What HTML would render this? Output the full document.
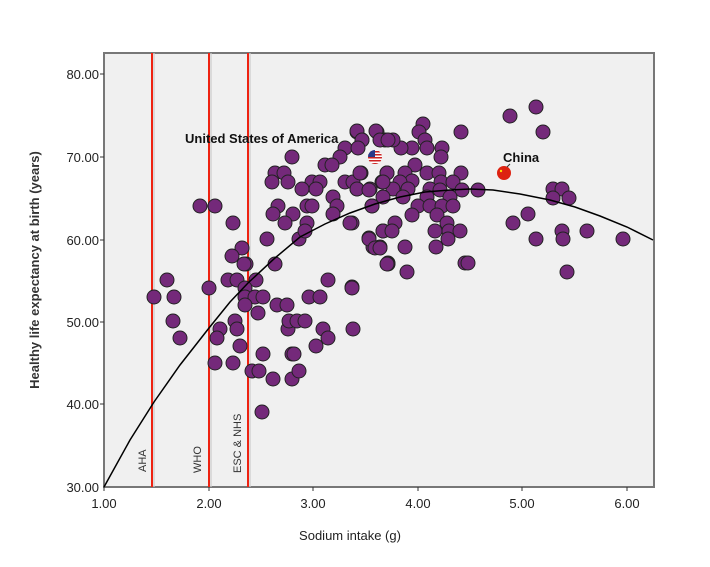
<!DOCTYPE html>
<html><head><meta charset="utf-8"><style>
body{margin:0;background:#fff;}
svg{display:block;font-family:"Liberation Sans",sans-serif;}
</style></head><body>
<svg width="710" height="567" viewBox="0 0 710 567" xmlns="http://www.w3.org/2000/svg">
<rect x="104" y="53" width="550" height="434" fill="#f0f0f0" stroke="#777" stroke-width="2"/>
<g stroke="#333" stroke-width="1">
<line x1="100" y1="74" x2="104" y2="74"/><line x1="100" y1="157" x2="104" y2="157"/><line x1="100" y1="240" x2="104" y2="240"/><line x1="100" y1="322" x2="104" y2="322"/><line x1="100" y1="404" x2="104" y2="404"/>
<line x1="104" y1="487" x2="104" y2="491"/><line x1="209" y1="487" x2="209" y2="491"/><line x1="313" y1="487" x2="313" y2="491"/><line x1="418" y1="487" x2="418" y2="491"/><line x1="522" y1="487" x2="522" y2="491"/><line x1="627" y1="487" x2="627" y2="491"/>
</g>
<g font-size="13" fill="#222" text-anchor="end">
<text x="99" y="79">80.00</text><text x="99" y="162">70.00</text><text x="99" y="245">60.00</text><text x="99" y="327">50.00</text><text x="99" y="409">40.00</text><text x="99" y="492">30.00</text>
</g>
<g font-size="13" fill="#222" text-anchor="middle">
<text x="104" y="508">1.00</text><text x="209" y="508">2.00</text><text x="313" y="508">3.00</text><text x="418" y="508">4.00</text><text x="522" y="508">5.00</text><text x="627" y="508">6.00</text>
</g>
<text x="350" y="540" font-size="13" fill="#222" text-anchor="middle">Sodium intake (g)</text>
<text transform="translate(39,270) rotate(-90)" font-size="13" font-weight="bold" fill="#333" text-anchor="middle">Healthy life expectancy at birth (years)</text>
<g stroke="#ccc" stroke-width="4" opacity="0.6"><line x1="153" y1="53" x2="153" y2="487"/><line x1="210" y1="53" x2="210" y2="487"/><line x1="249" y1="53" x2="249" y2="487"/></g>
<g stroke="#ee2211" stroke-width="2"><line x1="152" y1="53" x2="152" y2="487"/><line x1="209" y1="53" x2="209" y2="487"/><line x1="248" y1="53" x2="248" y2="487"/></g>
<g font-size="11" fill="#333">
<text transform="translate(146,472) rotate(-90)">AHA</text>
<text transform="translate(201,473) rotate(-90)">WHO</text>
<text transform="translate(241,473) rotate(-90)">ESC &amp; NHS</text>
</g>
<g fill="#74297a" stroke="#222" stroke-width="1">
<circle cx="510" cy="116" r="7"/><circle cx="536" cy="107" r="7"/><circle cx="543" cy="132" r="7"/><circle cx="461" cy="132" r="7"/><circle cx="423" cy="124" r="7"/><circle cx="419" cy="132" r="7"/><circle cx="425" cy="140" r="7"/><circle cx="427" cy="148" r="7"/><circle cx="442" cy="148" r="7"/><circle cx="441" cy="157" r="7"/><circle cx="412" cy="148" r="7"/><circle cx="401" cy="148" r="7"/><circle cx="393" cy="140" r="7"/><circle cx="385" cy="140" r="7"/><circle cx="377" cy="132" r="7"/><circle cx="362" cy="140" r="7"/><circle cx="357" cy="132" r="7"/><circle cx="415" cy="165" r="7"/><circle cx="427" cy="173" r="7"/><circle cx="439" cy="173" r="7"/><circle cx="461" cy="173" r="7"/><circle cx="405" cy="173" r="7"/><circle cx="387" cy="173" r="7"/><circle cx="361" cy="173" r="7"/><circle cx="441" cy="182" r="7"/><circle cx="453" cy="182" r="7"/><circle cx="412" cy="181" r="7"/><circle cx="400" cy="182" r="7"/><circle cx="382" cy="182" r="7"/><circle cx="357" cy="189" r="7"/><circle cx="370" cy="189" r="7"/><circle cx="393" cy="189" r="7"/><circle cx="408" cy="189" r="7"/><circle cx="430" cy="189" r="7"/><circle cx="440" cy="190" r="7"/><circle cx="462" cy="190" r="7"/><circle cx="478" cy="190" r="7"/><circle cx="383" cy="197" r="7"/><circle cx="403" cy="197" r="7"/><circle cx="427" cy="197" r="7"/><circle cx="450" cy="197" r="7"/><circle cx="372" cy="206" r="7"/><circle cx="418" cy="206" r="7"/><circle cx="430" cy="206" r="7"/><circle cx="442" cy="206" r="7"/><circle cx="453" cy="206" r="7"/><circle cx="412" cy="215" r="7"/><circle cx="437" cy="215" r="7"/><circle cx="395" cy="223" r="7"/><circle cx="447" cy="223" r="7"/><circle cx="352" cy="223" r="7"/><circle cx="383" cy="231" r="7"/><circle cx="435" cy="231" r="7"/><circle cx="449" cy="231" r="7"/><circle cx="460" cy="231" r="7"/><circle cx="369" cy="238" r="7"/><circle cx="373" cy="247" r="7"/><circle cx="380" cy="247" r="7"/><circle cx="405" cy="247" r="7"/><circle cx="436" cy="247" r="7"/><circle cx="448" cy="239" r="7"/><circle cx="388" cy="263" r="7"/><circle cx="407" cy="272" r="7"/><circle cx="465" cy="263" r="7"/><circle cx="468" cy="263" r="7"/><circle cx="352" cy="287" r="7"/>
<circle cx="553" cy="189" r="7"/><circle cx="562" cy="189" r="7"/><circle cx="553" cy="198" r="7"/><circle cx="569" cy="198" r="7"/><circle cx="528" cy="214" r="7"/><circle cx="513" cy="223" r="7"/><circle cx="536" cy="239" r="7"/><circle cx="562" cy="231" r="7"/><circle cx="563" cy="239" r="7"/><circle cx="587" cy="231" r="7"/><circle cx="623" cy="239" r="7"/><circle cx="567" cy="272" r="7"/>
<circle cx="357" cy="131" r="7"/><circle cx="376" cy="131" r="7"/><circle cx="362" cy="140" r="7"/><circle cx="380" cy="140" r="7"/><circle cx="388" cy="140" r="7"/><circle cx="345" cy="148" r="7"/><circle cx="358" cy="148" r="7"/><circle cx="340" cy="157" r="7"/><circle cx="292" cy="157" r="7"/><circle cx="325" cy="165" r="7"/><circle cx="332" cy="165" r="7"/><circle cx="275" cy="173" r="7"/><circle cx="284" cy="173" r="7"/><circle cx="288" cy="182" r="7"/><circle cx="272" cy="182" r="7"/><circle cx="312" cy="182" r="7"/><circle cx="320" cy="182" r="7"/><circle cx="302" cy="189" r="7"/><circle cx="316" cy="189" r="7"/><circle cx="345" cy="182" r="7"/><circle cx="353" cy="182" r="7"/><circle cx="360" cy="173" r="7"/><circle cx="357" cy="189" r="7"/><circle cx="369" cy="190" r="7"/><circle cx="387" cy="173" r="7"/><circle cx="383" cy="182" r="7"/><circle cx="333" cy="197" r="7"/><circle cx="278" cy="206" r="7"/><circle cx="307" cy="206" r="7"/><circle cx="312" cy="206" r="7"/><circle cx="337" cy="206" r="7"/><circle cx="372" cy="206" r="7"/><circle cx="200" cy="206" r="7"/><circle cx="215" cy="206" r="7"/><circle cx="273" cy="214" r="7"/><circle cx="293" cy="214" r="7"/><circle cx="285" cy="223" r="7"/><circle cx="307" cy="223" r="7"/><circle cx="333" cy="214" r="7"/><circle cx="350" cy="223" r="7"/><circle cx="233" cy="223" r="7"/><circle cx="299" cy="239" r="7"/><circle cx="267" cy="239" r="7"/><circle cx="305" cy="231" r="7"/><circle cx="369" cy="239" r="7"/><circle cx="383" cy="231" r="7"/><circle cx="392" cy="231" r="7"/><circle cx="375" cy="248" r="7"/><circle cx="380" cy="248" r="7"/><circle cx="242" cy="248" r="7"/><circle cx="232" cy="256" r="7"/><circle cx="246" cy="264" r="7"/><circle cx="275" cy="264" r="7"/><circle cx="388" cy="264" r="7"/>
<circle cx="167" cy="280" r="7"/><circle cx="154" cy="297" r="7"/><circle cx="174" cy="297" r="7"/><circle cx="173" cy="321" r="7"/><circle cx="180" cy="338" r="7"/><circle cx="209" cy="288" r="7"/><circle cx="228" cy="280" r="7"/><circle cx="237" cy="280" r="7"/><circle cx="256" cy="280" r="7"/><circle cx="244" cy="264" r="7"/><circle cx="328" cy="280" r="7"/><circle cx="352" cy="288" r="7"/><circle cx="387" cy="264" r="7"/><circle cx="245" cy="288" r="7"/><circle cx="245" cy="297" r="7"/><circle cx="255" cy="297" r="7"/><circle cx="263" cy="297" r="7"/><circle cx="245" cy="305" r="7"/><circle cx="258" cy="313" r="7"/><circle cx="277" cy="305" r="7"/><circle cx="287" cy="305" r="7"/><circle cx="309" cy="297" r="7"/><circle cx="320" cy="297" r="7"/><circle cx="235" cy="321" r="7"/><circle cx="237" cy="329" r="7"/><circle cx="220" cy="329" r="7"/><circle cx="217" cy="338" r="7"/><circle cx="240" cy="346" r="7"/><circle cx="215" cy="363" r="7"/><circle cx="233" cy="363" r="7"/><circle cx="252" cy="371" r="7"/><circle cx="259" cy="371" r="7"/><circle cx="263" cy="354" r="7"/><circle cx="273" cy="379" r="7"/><circle cx="292" cy="379" r="7"/><circle cx="299" cy="371" r="7"/><circle cx="292" cy="354" r="7"/><circle cx="294" cy="354" r="7"/><circle cx="288" cy="329" r="7"/><circle cx="289" cy="321" r="7"/><circle cx="297" cy="321" r="7"/><circle cx="305" cy="321" r="7"/><circle cx="323" cy="329" r="7"/><circle cx="328" cy="338" r="7"/><circle cx="316" cy="346" r="7"/><circle cx="353" cy="329" r="7"/><circle cx="262" cy="412" r="7"/>
</g>
<polyline fill="none" stroke="#000" stroke-width="1.5" points="104,487 130,440 154,402 180,365 209,328 230,302 248,283 275,258 300,237 325,224 350,213 375,204 400,197 425,192 450,190 470,189 493,190 520,194 550,200 575,207 600,216 627,227 653,240"/>
<!-- USA flag -->
<clipPath id="uc"><circle cx="375" cy="157" r="7"/></clipPath>
<g clip-path="url(#uc)">
<rect x="368" y="150" width="14" height="14" fill="#fff"/>
<rect x="368" y="151" width="14" height="1.5" fill="#c22"/><rect x="368" y="154" width="14" height="1.5" fill="#c22"/><rect x="368" y="157" width="14" height="1.5" fill="#c22"/><rect x="368" y="160" width="14" height="1.5" fill="#c22"/><rect x="368" y="163" width="14" height="1.5" fill="#c22"/>
<rect x="368" y="150" width="7" height="7" fill="#2a3a8a"/>
</g>
<circle cx="504" cy="173" r="7" fill="#dd2211"/>
<circle cx="501" cy="171" r="1.2" fill="#ffdd00"/>
<line x1="507" y1="167" x2="510" y2="164" stroke="#333" stroke-width="1"/>
<g font-size="13" font-weight="bold" fill="#111">
<text x="185" y="143">United States of America</text>
<text x="503" y="162">China</text>
</g>
</svg>
</body></html>
